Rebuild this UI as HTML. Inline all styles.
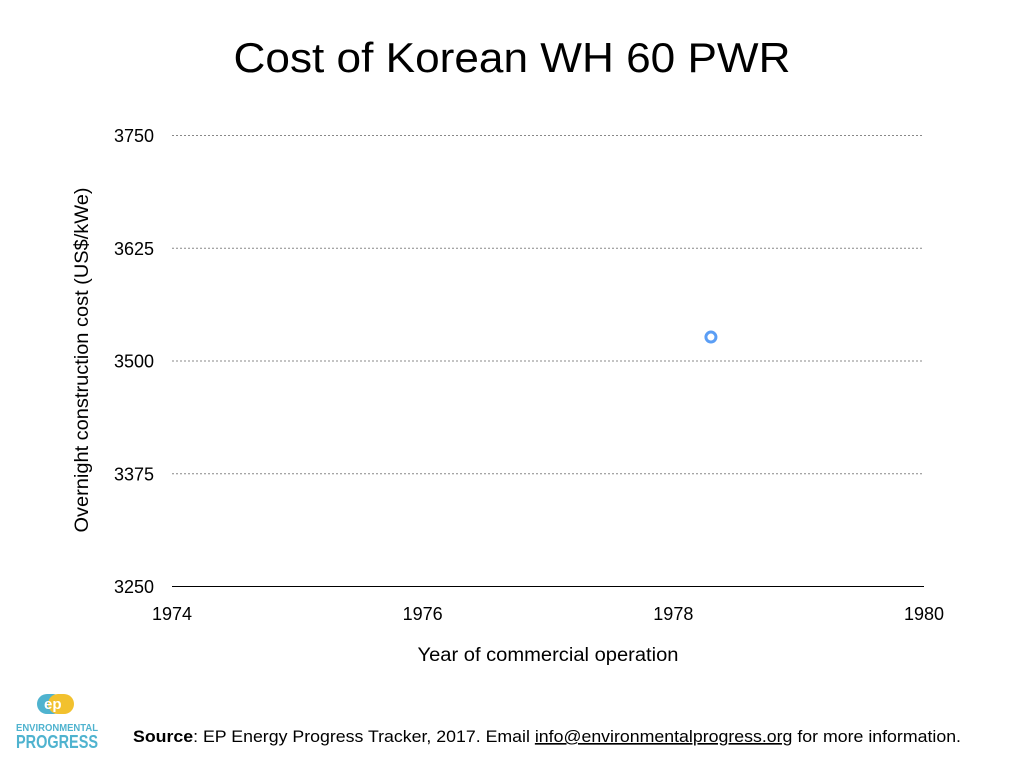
<!DOCTYPE html>
<html><head><meta charset="utf-8"><style>
body{margin:0;width:1024px;height:768px;background:#fff;font-family:"Liberation Sans",sans-serif;overflow:hidden;position:relative}
</style></head><body>
<svg width="1024" height="768" style="position:absolute;left:0;top:0">
<text x="512" y="72" text-anchor="middle" font-size="42" fill="#000" textLength="557" lengthAdjust="spacingAndGlyphs">Cost of Korean WH 60 PWR</text>
<g id="grid"></g><g id="yt"></g><g id="xt"></g><g id="pts"></g>
<line x1="172" y1="586.5" x2="924" y2="586.5" stroke="#000" stroke-width="1"/>
<text x="548" y="661" text-anchor="middle" font-size="19" textLength="261" lengthAdjust="spacingAndGlyphs">Year of commercial operation</text>
<text transform="translate(88,360) rotate(-90)" text-anchor="middle" font-size="19" textLength="345" lengthAdjust="spacingAndGlyphs">Overnight construction cost (US$/kWe)</text>
<g>
<rect x="37" y="694" width="26" height="20" rx="10" fill="#4fb3cf"/>
<rect x="48" y="694" width="26" height="20" rx="10" fill="#f2c12e"/>
<text x="44" y="709" font-size="15" font-weight="bold" fill="#fff">ep</text>
<text x="57" y="731" text-anchor="middle" font-size="10.5" font-weight="bold" fill="#4fb3cf" textLength="82" lengthAdjust="spacingAndGlyphs">ENVIRONMENTAL</text>
<text x="57" y="748" text-anchor="middle" font-size="18" font-weight="bold" fill="#4fb3cf" textLength="82" lengthAdjust="spacingAndGlyphs">PROGRESS</text>
</g>
<text x="133" y="742" font-size="16.5" textLength="828" lengthAdjust="spacingAndGlyphs"><tspan font-weight="bold">Source</tspan>: EP Energy Progress Tracker, 2017. Email <tspan text-decoration="underline">info@environmentalprogress.org</tspan> for more information.</text>
</svg>
<script>
const yTicks=[3250,3375,3500,3625,3750];
const xTicks=[1974,1976,1978,1980];
const years=[1978.3];
const costs=[3526];
const X=v=>172+(v-1974)/6*752;
const Y=v=>586-(v-3250)/500*451;
const ns="http://www.w3.org/2000/svg";
function mk(p,t,a){const e=document.createElementNS(ns,t);for(const k in a)e.setAttribute(k,a[k]);document.getElementById(p).appendChild(e);return e;}
yTicks.forEach(v=>{
 if(v>3250){const l=mk('grid','line',{x1:172,x2:924,y1:Y(v)+.5,y2:Y(v)+.5,stroke:'#888','stroke-dasharray':'2,2'});
 
 }
 const t=mk('yt','text',{x:154,y:Y(v)+7,'text-anchor':'end','font-size':18});t.textContent=v;
 
 
});
xTicks.forEach(v=>{
 const t=mk('xt','text',{x:X(v),y:620,'text-anchor':'middle','font-size':18});t.textContent=v;
 
 
});
years.forEach((v,i)=>{
 const c=mk('pts','circle',{cx:X(v),cy:Y(costs[i]),r:5,fill:'none',stroke:'#5b9ef5','stroke-width':3});
 
 
});
</script>
</body></html>
